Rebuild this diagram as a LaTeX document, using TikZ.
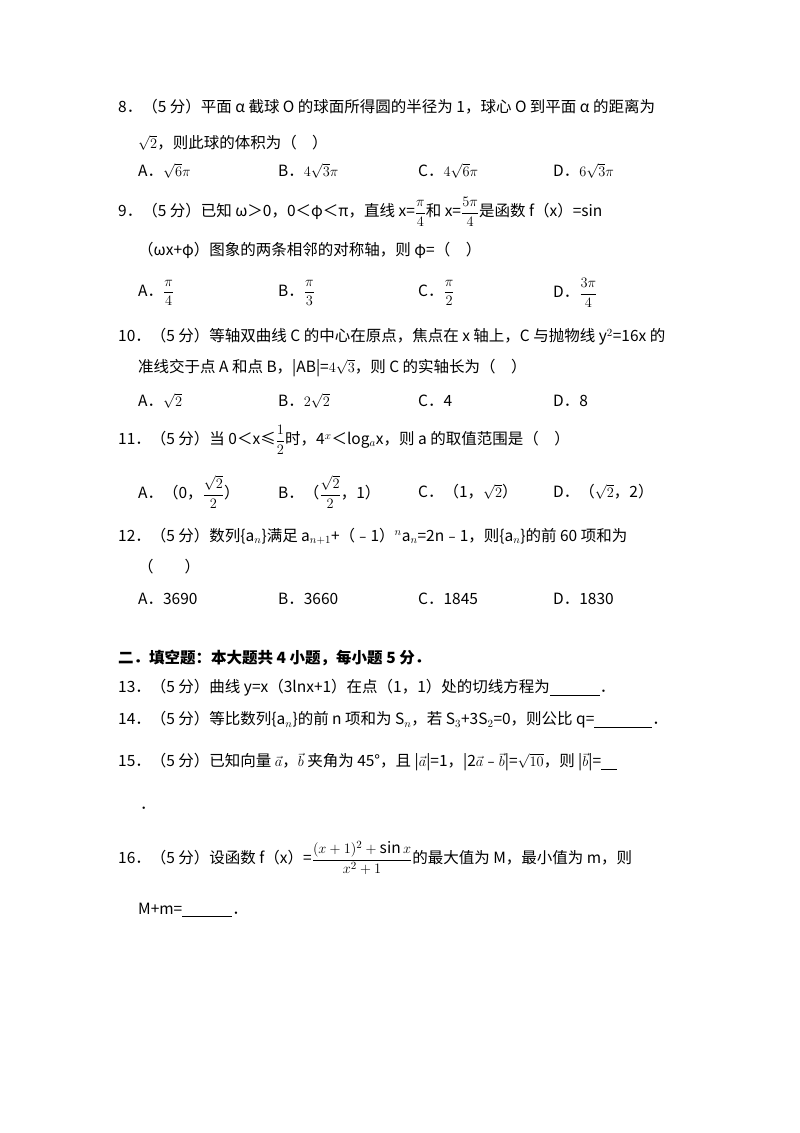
\documentclass[tikz,border=0pt]{standalone}
\usepackage{fontspec}
\setmainfont{Noto Sans CJK SC}
\usepackage{amsmath}
\begin{document}
\begin{tikzpicture}[x=1pt,y=-1pt,every node/.style={anchor=west,inner sep=0pt,font=\fontsize{15.5}{18}\selectfont}]
\useasboundingbox (0,0) rectangle (800,1133);
\fill[white] (0,0) rectangle (800,1133);
\tikzset{bl/.style={font=\fontsize{15.5}{18}\selectfont\bfseries}}
% Q8
\node (q8a) at (118,107) {8．（5 分）平面 α 截球 O 的球面所得圆的半径为 1，球心 O 到平面 α 的距离为};
\node (q8b) at (138,143) {$\sqrt{2}$，则此球的体积为（\quad ）};
\node (q8A) at (138,171) {A．$\sqrt{6}\pi$};
\node (q8B) at (278,171) {B．$4\sqrt{3}\pi$};
\node (q8C) at (418,171) {C．$4\sqrt{6}\pi$};
\node (q8D) at (553,171) {D．$6\sqrt{3}\pi$};
% Q9
\node (q9a) at (118,212) {9．（5 分）已知 ω＞0，0＜φ＜π，直线 x=$\dfrac{\pi}{4}$和 x=$\dfrac{5\pi}{4}$是函数 f（x）=sin};
\node (q9b) at (138,250) {（ωx+φ）图象的两条相邻的对称轴，则 φ=（\quad ）};
\node (q9A) at (138,293) {A．$\dfrac{\pi}{4}$};
\node (q9B) at (278,293) {B．$\dfrac{\pi}{3}$};
\node (q9C) at (418,293) {C．$\dfrac{\pi}{2}$};
\node (q9D) at (553,293) {D．$\dfrac{3\pi}{4}$};
% Q10
\node (q10a) at (118,337) {10．（5 分）等轴双曲线 C 的中心在原点，焦点在 x 轴上，C 与抛物线 y$^2$=16x 的};
\node (q10b) at (138,368) {准线交于点 A 和点 B，|AB|=$4\sqrt{3}$，则 C 的实轴长为（\quad ）};
\node (q10A) at (138,401) {A．$\sqrt{2}$};
\node (q10B) at (278,401) {B．$2\sqrt{2}$};
\node (q10C) at (418,401) {C．4};
\node (q10D) at (553,401) {D．8};
% Q11
\node (q11a) at (118,440) {11．（5 分）当 0＜x≤$\dfrac{1}{2}$时，4$^x$＜log$_a$x，则 a 的取值范围是（\quad ）};
\node (q11A) at (138,492) {A．（0，$\dfrac{\sqrt{2}}{2}$）};
\node (q11B) at (278,492) {B．（$\dfrac{\sqrt{2}}{2}$，1）};
\node (q11C) at (418,492) {C．（1，$\sqrt{2}$）};
\node (q11D) at (553,492) {D．（$\sqrt{2}$，2）};
% Q12
\node (q12a) at (118,536) {12．（5 分）数列\{a$_n$\}满足 a$_{n+1}$+（﹣1）$^n$a$_n$=2n﹣1，则\{a$_n$\}的前 60 项和为};
\node (q12b) at (138,567) {（\qquad ）};
\node (q12A) at (138,599) {A．3690};
\node (q12B) at (278,599) {B．3660};
\node (q12C) at (418,599) {C．1845};
\node (q12D) at (553,599) {D．1830};
% Section
\node[bl] (sec) at (118,658) {二．填空题：本大题共 4 小题，每小题 5 分．};
\node (q13) at (118,688) {13．（5 分）曲线 y=x（3lnx+1）在点（1，1）处的切线方程为\underline{\hspace{50pt}}．};
\node (q14) at (118,720) {14．（5 分）等比数列\{a$_n$\}的前 n 项和为 S$_n$，若 S$_3$+3S$_2$=0，则公比 q=\underline{\hspace{58pt}}．};
\node (q15) at (118,762) {15．（5 分）已知向量 $\vec{a}$，$\vec{b}$ 夹角为 45°，且 |$\vec{a}$|=1，|2$\vec{a}$﹣$\vec{b}$|=$\sqrt{10}$，则 |$\vec{b}$|=\underline{\hspace{16pt}}};
\node (q15b) at (140,808) {．};
\node (q16) at (118,858) {16．（5 分）设函数 f（x）=$\dfrac{(x+1)^2+\sin x}{x^2+1}$的最大值为 M，最小值为 m，则};
\node (q16b) at (138,910) {M+m=\underline{\hspace{50pt}}．};
\end{tikzpicture}
\end{document}
